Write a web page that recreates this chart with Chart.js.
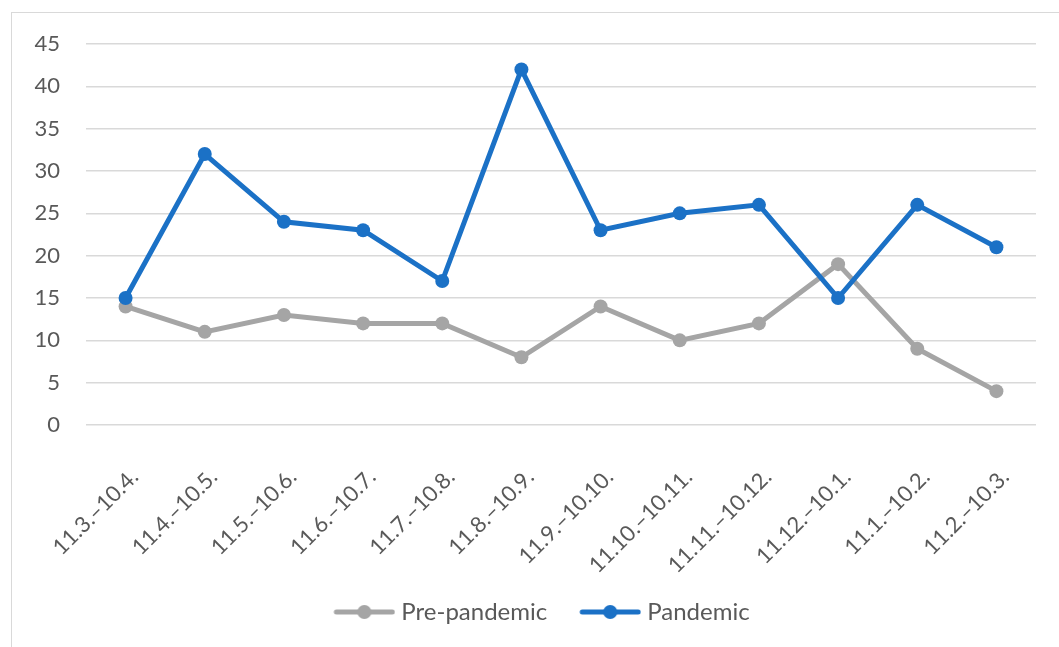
<!DOCTYPE html>
<html>
<head>
<meta charset="utf-8">
<script src="https://cdn.jsdelivr.net/npm/chart.js@4"></script>
<style>
  html, body { margin: 0; padding: 0; background: #fff; overflow: hidden; }
  #frame { position: absolute; left: 11px; top: 12px; width: 1070px; height: 660px; border: 1.5px solid #D9D9D9; box-sizing: border-box; }
  #chart { position: absolute; left: 0; top: 0; }
</style>
</head>
<body>
<div id="frame"></div>
<canvas id="chart" width="1059" height="647"></canvas>
<script>
// Month windows (start month – end month)
const categories = ['11.3.–10.4.', '11.4.–10.5.', '11.5.–10.6.', '11.6.–10.7.', '11.7.–10.8.', '11.8.–10.9.',
  '11.9.–10.10.', '11.10.–10.11.', '11.11.–10.12.', '11.12.–10.1.', '11.1.–10.2.', '11.2.–10.3.'];
const prePandemic = [14, 11, 13, 12, 12, 8, 14, 10, 12, 19, 9, 4];
const pandemic = [15, 32, 24, 23, 17, 42, 23, 25, 26, 15, 26, 21];
const yTicks = [0, 5, 10, 15, 20, 25, 30, 35, 40, 45];

const GREY = '#A5A5A5';
const BLUE = '#1B71C6';
const TEXT = '#595959';
const FONT = 'Lato, "Open Sans", sans-serif';

// legend marker: a short thick line with a dot in the middle, drawn in the
// right-hand part of the image so the gap before the label stays small
const MARKER_W = 85;
function legendMarker(color) {
  const c = document.createElement('canvas');
  c.width = MARKER_W; c.height = 16;
  const g = c.getContext('2d');
  g.strokeStyle = color; g.lineWidth = 5; g.lineCap = 'round';
  g.beginPath(); g.moveTo(MARKER_W - 59, 8); g.lineTo(MARKER_W - 3, 8); g.stroke();
  g.fillStyle = color;
  g.beginPath(); g.arc(MARKER_W - 31, 8, 7, 0, Math.PI * 2); g.fill();
  return c;
}
const markers = [legendMarker(GREY), legendMarker(BLUE)];

// nudge the legend row so it sits centred under the plot
const legendShift = {
  id: 'legendShift',
  afterLayout(chart) {
    const lg = chart.legend;
    if (lg) { lg.left += 15; lg.right += 15; }
  }
};

new Chart(document.getElementById('chart'), {
  type: 'line',
  data: {
    labels: categories,
    datasets: [
      { label: 'Pre-pandemic', data: prePandemic, borderColor: GREY, backgroundColor: GREY,
        borderWidth: 5, pointRadius: 7, pointHoverRadius: 7, pointBorderWidth: 0, order: 1 },
      { label: 'Pandemic', data: pandemic, borderColor: BLUE, backgroundColor: BLUE,
        borderWidth: 5, pointRadius: 7, pointHoverRadius: 7, pointBorderWidth: 0, order: 0 }
    ]
  },
  plugins: [legendShift],
  options: {
    responsive: false,
    animation: false,
    events: [],
    layout: { padding: { left: 0, right: 23, top: 44, bottom: 13 } },
    scales: {
      x: {
        offset: true,
        grid: { display: false, drawTicks: false, offset: true },
        border: { display: false },
        ticks: { color: TEXT, font: { family: FONT, size: 22 }, minRotation: 45, maxRotation: 45,
                 padding: 39, labelOffset: 9, autoSkip: false },
        afterFit(scale) { scale.height = 160; }
      },
      y: {
        min: 0, max: 45,
        afterBuildTicks(scale) { scale.ticks = yTicks.map(v => ({ value: v })); },
        grid: { color: '#D9D9D9', lineWidth: 1.5, drawTicks: false },
        border: { display: false },
        ticks: { color: TEXT, font: { family: FONT, size: 22 }, padding: 26 },
        afterFit(scale) { scale.width = 86; }
      }
    },
    plugins: {
      tooltip: { enabled: false },
      legend: {
        position: 'bottom',
        labels: {
          color: TEXT,
          font: { family: FONT, size: 24 },
          usePointStyle: true,
          pointStyleWidth: MARKER_W - 12,
          padding: 15,
          sort: (a, b) => a.datasetIndex - b.datasetIndex,
          generateLabels(chart) {
            return chart.data.datasets.map((ds, i) => ({
              text: ds.label,
              datasetIndex: i,
              pointStyle: markers[i],
              fillStyle: ds.borderColor,
              strokeStyle: ds.borderColor,
              lineWidth: 0,
              fontColor: TEXT,
              hidden: false
            }));
          }
        }
      }
    }
  }
});
</script>
</body>
</html>
